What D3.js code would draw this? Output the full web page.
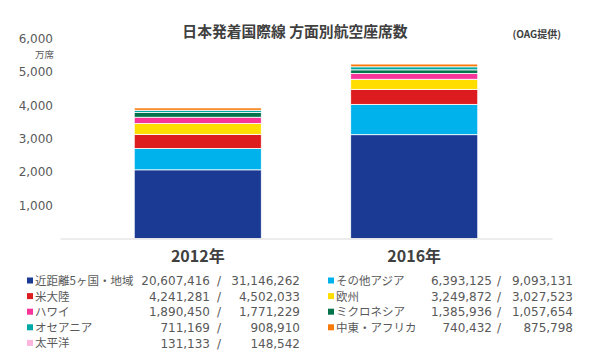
<!DOCTYPE html>
<html><head><meta charset="utf-8">
<script src="https://cdn.jsdelivr.net/npm/d3@7"></script>
<style>body{margin:0;background:#fff;}svg{display:block;}</style>
</head><body>
<svg id="c" width="595" height="360"></svg>
<script>
const years = ["2012年", "2016年"];
const regions = ["近距離5ヶ国・地域", "その他アジア", "米大陸", "欧州", "ハワイ", "ミクロネシア", "オセアニア", "中東・アフリカ", "太平洋"];
const colors = ["#1B3A93", "#00B2EC", "#DC1C1E", "#FFDD00", "#F7349A", "#00734A", "#00A9A5", "#F87A0A", "#FDB5DB"];
const seats2012 = [20607416, 6393125, 4241281, 3249872, 1890450, 1385936, 711169, 740432, 131133];
const seats2016 = [31146262, 9093131, 4502033, 3027523, 1771229, 1057654, 908910, 875798, 148542];
const yTicks = [1000, 2000, 3000, 4000, 5000, 6000];
const legendOrder = [0, 1, 2, 3, 4, 5, 6, 7, 8];

const svg = d3.select("#c");
const font = "'Noto Sans CJK JP', 'Noto Sans', sans-serif";
const numFont = "'DejaVu Sans', Verdana, sans-serif";
const x = d3.scaleBand().domain(years).range([60, 552]).paddingInner(0.413).paddingOuter(0.343);
const y = d3.scaleLinear().domain([0, 6000]).range([238.5, 38.5]);

const table = years.map((yr, i) => {
  const o = {year: yr};
  regions.forEach((r, j) => o[r] = (i === 0 ? seats2012 : seats2016)[j] / 10000);
  return o;
});
const stack = d3.stack().keys(regions)(table);

svg.append("text").attr("x", 295).attr("y", 37).attr("text-anchor", "middle")
  .attr("font-family", font).attr("font-weight", "bold").attr("font-size", 14.8).attr("fill", "#404040")
  .text("日本発着国際線 方面別航空座席数");
svg.append("text").attr("x", 561).attr("y", 38).attr("text-anchor", "end")
  .attr("font-family", font).attr("font-weight", "bold").attr("font-size", 10).attr("fill", "#404040")
  .text("(OAG提供)");

const yAxis = svg.append("g").attr("transform", "translate(53,0)")
  .call(d3.axisLeft(y).tickValues(yTicks).tickSize(0).tickPadding(0).tickFormat(d3.format(",")));
yAxis.select(".domain").remove();
yAxis.selectAll("text").attr("font-family", numFont).attr("font-size", 12).attr("fill", "#595959");
svg.append("text").attr("x", 54).attr("y", 57.5).attr("text-anchor", "end")
  .attr("font-family", font).attr("font-size", 9.5).attr("fill", "#595959").text("万席");

svg.append("g").selectAll("g").data(stack).join("g").attr("fill", (d, i) => colors[i])
  .selectAll("rect").data(d => d).join("rect")
  .attr("x", d => x(d.data.year)).attr("width", x.bandwidth())
  .attr("y", d => y(d[1])).attr("height", d => y(d[0]) - y(d[1]))
  .attr("stroke", "#fff").attr("stroke-width", 0.8);

const xAxis = svg.append("g").attr("transform", "translate(0,238.5)")
  .call(d3.axisBottom(x).tickSize(0).tickPadding(15));
xAxis.select(".domain").attr("stroke", "#d9d9d9").attr("stroke-width", 1.2);
xAxis.selectAll("text").attr("font-family", font).attr("font-weight", "bold")
  .attr("font-size", 16).attr("fill", "#404040").attr("dy", "0.55em");

const fmt = d3.format(",");
const colX = [{sq: 27, tx: 35, n1: 210, sl: 219, n2: 300}, {sq: 328, tx: 336, n1: 492, sl: 499, n2: 573}];
const lg = svg.append("g").attr("font-size", 12).attr("fill", "#595959");
legendOrder.forEach((k, idx) => {
  const c = colX[idx % 2];
  const yy = 281 + Math.floor(idx / 2) * 15.6;
  lg.append("rect").attr("x", c.sq).attr("y", yy - 3.5).attr("width", 6).attr("height", 6).attr("fill", colors[k]);
  lg.append("text").attr("x", c.tx).attr("y", yy).attr("dy", "0.35em").attr("font-family", font).attr("font-size", 11.5).text(regions[k]);
  lg.append("text").attr("x", c.n1).attr("y", yy).attr("dy", "0.35em").attr("font-family", numFont).attr("text-anchor", "end").text(fmt(seats2012[k]));
  lg.append("text").attr("x", c.sl).attr("y", yy).attr("dy", "0.35em").attr("font-family", numFont).attr("text-anchor", "middle").text("/");
  lg.append("text").attr("x", c.n2).attr("y", yy).attr("dy", "0.35em").attr("font-family", numFont).attr("text-anchor", "end").text(fmt(seats2016[k]));
});
</script>
</body></html>
